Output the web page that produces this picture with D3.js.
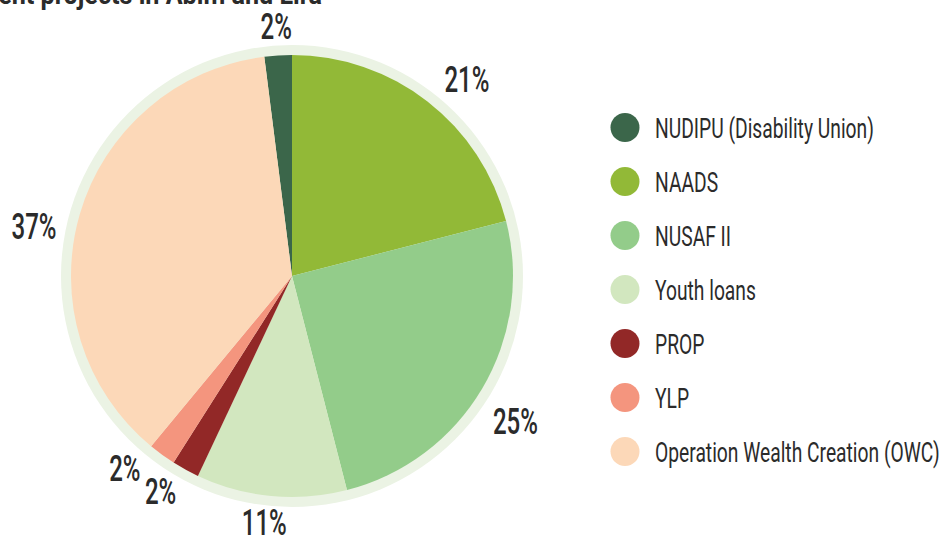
<!DOCTYPE html>
<html>
<head>
<meta charset="utf-8">
<script src="https://cdn.jsdelivr.net/npm/d3@7"></script>
<style>
  body { margin: 0; background: #fff; }
  svg { display: block; }
  text { font-family: Roboto, "Liberation Sans", sans-serif; fill: #2b2b2b; }
  .pct { font-weight: 500; }
  .title { font-weight: bold; }
</style>
</head>
<body>
<svg width="939" height="540"></svg>
<script>
// data
const programmes = ["NUDIPU (Disability Union)", "NAADS", "NUSAF II", "Youth loans", "PROP", "YLP", "Operation Wealth Creation (OWC)"];
const shares = [2, 21, 25, 11, 2, 2, 37];
const colours = ["#3b664a", "#92b937", "#93cc8a", "#d2e7bf", "#922827", "#f4957e", "#fcd8b8"];
const titleText = "Participation in government projects in Abim and Lira";

const svg = d3.select("svg");
const cx = 292, cy = 276, radius = 221;

// labels were placed by hand in the original, nudge them off the centroid
const nudge = [[0, 1.5], [20.5, 1.5], [6.5, 16.5], [-4, -5.5], [-10, -6], [-19, -12], [-16, 19.5]];

// the original uses a very condensed face; squeeze a normal one to the same width
function squeeze(sample, size, weight, target) {
    const t = svg.append("text")
        .style("font-size", size + "px")
        .style("font-weight", weight)
        .text(sample);
    const w = t.node().getComputedTextLength();
    t.remove();
    return target / w;
}

const kPct = squeeze("21%", 37, 500, 45);
const kLeg = (squeeze("NUDIPU (Disability Union)", 28, 400, 222) +
              squeeze("Operation Wealth Creation (OWC)", 28, 400, 281)) / 2;
const kTitle = squeeze("ent projects in Abim and Lira", 28, 700, 324);

svg.append("text")
    .attr("class", "title")
    .attr("text-anchor", "end")
    .attr("transform", `translate(322,4) scale(${kTitle},1)`)
    .style("font-size", "28px")
    .text(titleText);

const g = svg.append("g").attr("transform", `translate(${cx},${cy})`);

g.append("circle")
    .attr("r", radius + 10)
    .attr("fill", "#ebf3e4");

const data = programmes.map((p, i) => ({name: p, value: shares[i], colour: colours[i]}));

// NUDIPU sits just left of twelve o'clock, NAADS starts at the top
const startAngle = -shares[0] / 100 * 2 * Math.PI;
const pie = d3.pie()
    .sort(null)
    .value(d => d.value)
    .startAngle(startAngle)
    .endAngle(startAngle + 2 * Math.PI);

const arc = d3.arc().innerRadius(0).outerRadius(radius);
const labelArc = d3.arc().innerRadius(252).outerRadius(252);

const arcs = pie(data);

g.selectAll("path.slice")
    .data(arcs)
    .enter()
    .append("path")
    .attr("class", "slice")
    .attr("d", arc)
    .attr("fill", d => d.data.colour);

g.selectAll("text.pct")
    .data(arcs)
    .enter()
    .append("text")
    .attr("class", "pct")
    .attr("text-anchor", "middle")
    .attr("transform", (d, i) => {
        const c = labelArc.centroid(d);
        return `translate(${c[0] + nudge[i][0]},${c[1] + nudge[i][1] + 13.5}) scale(${kPct},1)`;
    })
    .style("font-size", "37px")
    .text(d => d.data.value + "%");

const legend = svg.append("g").attr("transform", "translate(625,127.5)");
const legY = d3.scalePoint().domain(programmes).range([0, 324]);

const item = legend.selectAll("g.item")
    .data(data)
    .enter()
    .append("g")
    .attr("class", "item")
    .attr("transform", d => `translate(0,${legY(d.name)})`);

item.append("circle")
    .attr("r", 14.5)
    .attr("fill", d => d.colour);

item.append("text")
    .attr("class", "leg")
    .attr("transform", `translate(30,10) scale(${kLeg},1)`)
    .style("font-size", "28px")
    .text(d => d.name);
</script>
</body>
</html>
